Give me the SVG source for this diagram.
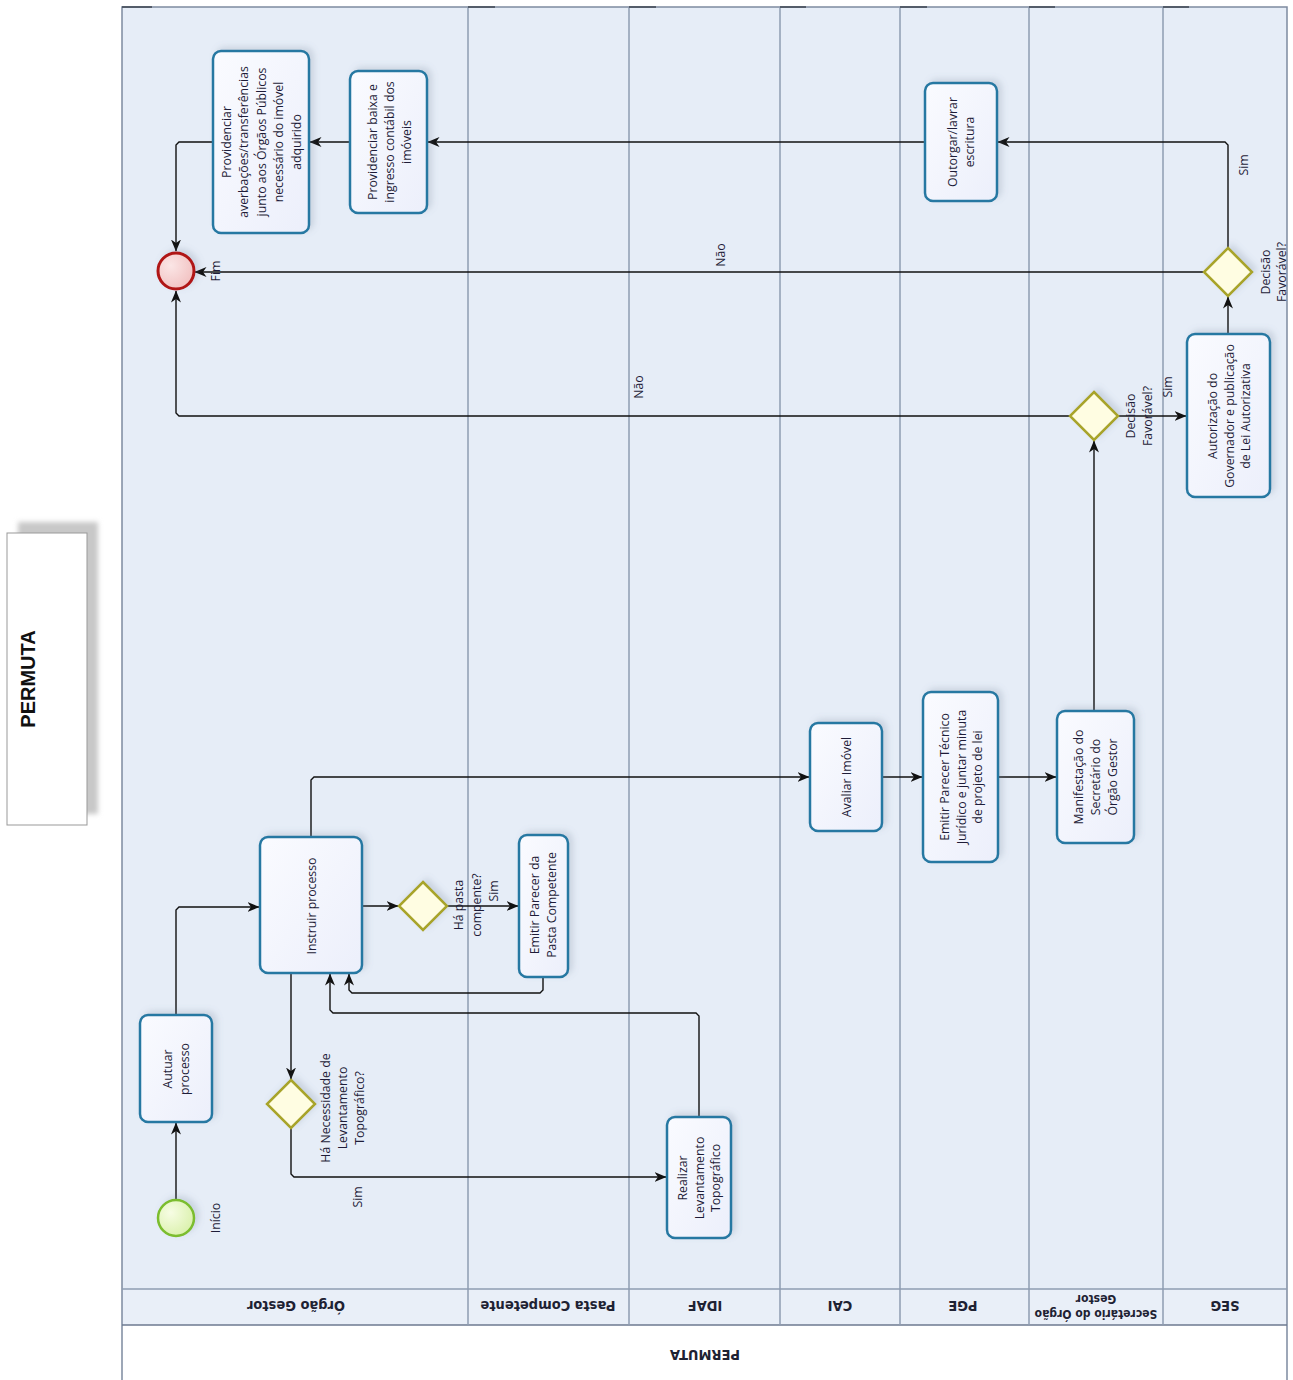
<svg xmlns="http://www.w3.org/2000/svg" width="1293" height="1380" viewBox="0 0 1293 1380">
<defs>
<style>
.lane{fill:#e6edf7;}
.lline{stroke:#8e9cb2;stroke-width:1.5;fill:none;}
.task{fill:url(#taskg);stroke:#2678a2;stroke-width:2.5;}
.gw{fill:#fffde2;stroke:#a8a42c;stroke-width:2.5;}
.t{font-family:"Open Sans","DejaVu Sans",sans-serif;font-size:12.3px;fill:#1e1c38;text-anchor:middle;dominant-baseline:central;}
.lbl{font-family:"DejaVu Sans Condensed","DejaVu Sans",sans-serif;font-weight:bold;font-size:14.5px;fill:#1e2233;text-anchor:middle;dominant-baseline:central;}
.lbls{font-family:"DejaVu Sans Condensed","DejaVu Sans",sans-serif;font-weight:bold;font-size:12px;fill:#1e2233;text-anchor:middle;dominant-baseline:central;}
.c{fill:none;stroke:#111;stroke-width:1.4;}
.ca{fill:none;stroke:#111;stroke-width:1.4;marker-end:url(#arr);}
</style>
<linearGradient id="taskg" x1="0" y1="0" x2="1" y2="1">
<stop offset="0" stop-color="#fafbff"/><stop offset="1" stop-color="#eceffb"/>
</linearGradient>
<radialGradient id="startg" cx="0.35" cy="0.35" r="0.8">
<stop offset="0" stop-color="#f7fde4"/><stop offset="1" stop-color="#d6efa4"/>
</radialGradient>
<radialGradient id="endg" cx="0.35" cy="0.35" r="0.8">
<stop offset="0" stop-color="#fbe6e6"/><stop offset="1" stop-color="#f0bcbc"/>
</radialGradient>
<filter id="sh" x="-30%" y="-30%" width="160%" height="160%">
<feDropShadow dx="4" dy="-3" stdDeviation="3" flood-color="#6a7a90" flood-opacity="0.22"/>
</filter>
<filter id="blur" x="-20%" y="-20%" width="140%" height="140%">
<feGaussianBlur stdDeviation="2.5"/>
</filter>
<marker id="arr" viewBox="0 0 12 10" refX="11.5" refY="5" markerWidth="12" markerHeight="10" orient="auto" markerUnits="userSpaceOnUse">
<path d="M0,0 L12,5 L0,10 L3.5,5 z" fill="#111"/>
</marker>
</defs>

<rect x="0" y="0" width="1293" height="1380" fill="#ffffff"/>

<!-- Left title box -->
<g id="title">
<rect x="18" y="522" width="80" height="292" fill="#c8c8c8" filter="url(#blur)"/>
<rect x="7" y="533" width="80" height="292" fill="#ffffff" stroke="#999" stroke-width="1"/>
<text transform="translate(28,679) rotate(-90)" style="font-family:'Liberation Sans',Arial,sans-serif;font-weight:bold;font-size:20px;fill:#111;text-anchor:middle;dominant-baseline:central;">PERMUTA</text>
</g>

<!-- Pool -->
<g id="pool">
<rect x="122" y="7" width="1165" height="1282" class="lane"/>
<rect x="122" y="1289" width="1165" height="36" fill="#e9eff8"/>
<rect x="122" y="1325" width="1165" height="60" fill="#ffffff"/>
<rect x="122" y="7" width="1165" height="1380" fill="none" stroke="#7d8aa0" stroke-width="1.5"/>
<line x1="122" y1="1289" x2="1287" y2="1289" class="lline"/>
<line x1="122" y1="1325" x2="1287" y2="1325" stroke="#6d7a90" stroke-width="1.5"/>
<g class="lline">
<line x1="468" y1="7" x2="468" y2="1325"/>
<line x1="629" y1="7" x2="629" y2="1325"/>
<line x1="780" y1="7" x2="780" y2="1325"/>
<line x1="900" y1="7" x2="900" y2="1325"/>
<line x1="1029" y1="7" x2="1029" y2="1325"/>
<line x1="1163" y1="7" x2="1163" y2="1325"/>
</g>
<g stroke="#3d4450" stroke-width="1.5">
<line x1="122" y1="7" x2="152" y2="7"/>
<line x1="468" y1="7" x2="495" y2="7"/>
<line x1="629" y1="7" x2="656" y2="7"/>
<line x1="780" y1="7" x2="806" y2="7"/>
<line x1="900" y1="7" x2="927" y2="7"/>
<line x1="1029" y1="7" x2="1055" y2="7"/>
<line x1="1163" y1="7" x2="1189" y2="7"/>
</g>
<text class="lbl" transform="rotate(180 296 1306)" x="296" y="1306">Órgão Gestor</text>
<text class="lbl" transform="rotate(180 548 1306)" x="548" y="1306">Pasta Competente</text>
<text class="lbl" transform="rotate(180 705 1306)" x="705" y="1306">IDAF</text>
<text class="lbl" transform="rotate(180 840 1306)" x="840" y="1306">CAI</text>
<text class="lbl" transform="rotate(180 963 1306)" x="963" y="1306">PGE</text>
<g transform="translate(1096,1306) rotate(180)">
<text class="lbls" x="0" y="-7.5">Secretário do Órgão</text>
<text class="lbls" x="0" y="7.5">Gestor</text>
</g>
<text class="lbl" transform="rotate(180 1225 1306)" x="1225" y="1306">SEG</text>
<text class="lbl" transform="rotate(180 705 1355)" x="705" y="1355">PERMUTA</text>
</g>

<!-- Connectors -->
<g id="connectors">
<path class="ca" d="M176,1200 L176,1123"/>
<path class="ca" d="M176,1015 L176,910 L179,907 L259,907"/>
<path class="ca" d="M362,906 L398,906"/>
<path class="ca" d="M447,906 L518,906"/>
<path class="ca" d="M543,977 L543,990 L540,993 L352,993 L349,990 L349,974"/>
<path class="ca" d="M291,973 L291,1079"/>
<path class="ca" d="M291,1128 L291,1174 L294,1177 L666,1177"/>
<path class="ca" d="M699,1117 L699,1016 L696,1013 L333,1013 L330,1010 L330,974"/>
<path class="ca" d="M311,837 L311,780 L314,777 L809,777"/>
<path class="ca" d="M882,777 L922,777"/>
<path class="ca" d="M998,777 L1056,777"/>
<path class="ca" d="M1094,711 L1094,441"/>
<path class="ca" d="M1118,416 L1186,416"/>
<path class="ca" d="M1070,416 L179,416 L176,413 L176,291"/>
<path class="ca" d="M1228,334 L1228,297"/>
<path class="ca" d="M1204,272 L195,272"/>
<path class="ca" d="M1228,248 L1228,145 L1225,142 L998,142"/>
<path class="ca" d="M925,142 L428,142"/>
<path class="ca" d="M350,142 L310,142"/>
<path class="ca" d="M213,142 L179,142 L176,145 L176,251"/>
<text class="t" transform="translate(493,891) rotate(-90)">Sim</text>
<text class="t" transform="translate(357,1197) rotate(-90)">Sim</text>
<text class="t" transform="translate(1167,387) rotate(-90)">Sim</text>
<text class="t" transform="translate(1243,165) rotate(-90)">Sim</text>
<text class="t" transform="translate(638,387) rotate(-90)">Não</text>
<text class="t" transform="translate(720,255) rotate(-90)">Não</text>
</g>

<!-- Nodes -->
<g id="inicio">
<circle cx="176" cy="1218" r="18" fill="url(#startg)" stroke="#7bbd2e" stroke-width="2.5" filter="url(#sh)"/>
<text class="t" transform="translate(215,1218) rotate(-90)">Início</text>
</g>

<g id="autuar">
<rect x="140" y="1015" width="72" height="107" rx="8" class="task" filter="url(#sh)"/>
<g transform="translate(176,1069) rotate(-90)">
<text class="t" y="-8.5">Autuar</text>
<text class="t" y="8.5">processo</text>
</g>
</g>

<g id="instruir">
<rect x="260" y="837" width="102" height="136" rx="8" class="task" filter="url(#sh)"/>
<text class="t" transform="translate(311,906) rotate(-90)">Instruir processo</text>
</g>

<g id="gw-pasta">
<polygon points="423,882 447,906 423,930 399,906" class="gw" filter="url(#sh)"/>
<g transform="translate(467,905) rotate(-90)">
<text class="t" y="-9">Há pasta</text>
<text class="t" y="9">compente?</text>
</g>
</g>

<g id="emitir-pasta">
<rect x="519" y="835" width="49" height="142" rx="8" class="task" filter="url(#sh)"/>
<g transform="translate(543,905) rotate(-90)">
<text class="t" y="-8.5">Emitir Parecer da</text>
<text class="t" y="8.5">Pasta  Competente</text>
</g>
</g>

<g id="gw-levantamento">
<polygon points="291,1080 315,1104 291,1128 267,1104" class="gw" filter="url(#sh)"/>
<g transform="translate(342,1108) rotate(-90)">
<text class="t" y="-17">Há Necessidade de</text>
<text class="t" y="0">Levantamento</text>
<text class="t" y="17">Topográfico?</text>
</g>
</g>

<g id="realizar">
<rect x="667" y="1117" width="64" height="121" rx="8" class="task" filter="url(#sh)"/>
<g transform="translate(699,1178) rotate(-90)">
<text class="t" y="-16.5">Realizar</text>
<text class="t" y="0">Levantamento</text>
<text class="t" y="16.5">Topográfico</text>
</g>
</g>

<g id="avaliar">
<rect x="810" y="723" width="72" height="108" rx="8" class="task" filter="url(#sh)"/>
<text class="t" transform="translate(846,777) rotate(-90)">Avaliar Imóvel</text>
</g>

<g id="parecer-pge">
<rect x="923" y="692" width="75" height="170" rx="8" class="task" filter="url(#sh)"/>
<g transform="translate(961,777) rotate(-90)">
<text class="t" y="-16.5">Emitir Parecer Técnico</text>
<text class="t" y="0">Jurídico e juntar minuta</text>
<text class="t" y="16.5">de projeto de lei</text>
</g>
</g>

<g id="manifestacao">
<rect x="1057" y="711" width="77" height="132" rx="8" class="task" filter="url(#sh)"/>
<g transform="translate(1095,777) rotate(-90)">
<text class="t" y="-17">Manifestação do</text>
<text class="t" y="0">Secretário do</text>
<text class="t" y="17">Órgão Gestor</text>
</g>
</g>

<g id="gw-decisao1">
<polygon points="1094,392 1118,416 1094,440 1070,416" class="gw" filter="url(#sh)"/>
<g transform="translate(1139,416) rotate(-90)">
<text class="t" y="-8.5">Decisão</text>
<text class="t" y="8.5">Favorável?</text>
</g>
</g>

<g id="autorizacao">
<rect x="1187" y="334" width="83" height="163" rx="8" class="task" filter="url(#sh)"/>
<g transform="translate(1229,416) rotate(-90)">
<text class="t" y="-16.5">Autorização do</text>
<text class="t" y="0">Governador e publicação</text>
<text class="t" y="16.5">de Lei Autorizativa</text>
</g>
</g>

<g id="gw-decisao2">
<polygon points="1228,248 1252,272 1228,296 1204,272" class="gw" filter="url(#sh)"/>
<g transform="translate(1273,272) rotate(-90)">
<text class="t" y="-8">Decisão</text>
<text class="t" y="8">Favorável?</text>
</g>
</g>

<g id="outorgar">
<rect x="925" y="83" width="72" height="118" rx="8" class="task" filter="url(#sh)"/>
<g transform="translate(961,142) rotate(-90)">
<text class="t" y="-8.5">Outorgar/lavrar</text>
<text class="t" y="8.5">escritura</text>
</g>
</g>

<g id="baixa">
<rect x="350" y="71" width="77" height="142" rx="8" class="task" filter="url(#sh)"/>
<g transform="translate(389,142) rotate(-90)">
<text class="t" y="-17">Providenciar baixa e</text>
<text class="t" y="0">ingresso contábil dos</text>
<text class="t" y="17">imóveis</text>
</g>
</g>

<g id="averbacoes">
<rect x="213" y="51" width="96" height="182" rx="8" class="task" filter="url(#sh)"/>
<g transform="translate(261,142) rotate(-90)">
<text class="t" y="-35">Providenciar</text>
<text class="t" y="-17.5">averbações/transferências</text>
<text class="t" y="0">junto aos Órgãos Públicos</text>
<text class="t" y="17.5">necessário do imóvel</text>
<text class="t" y="35">adquirido</text>
</g>
</g>

<g id="fim">
<circle cx="176" cy="271" r="18" fill="url(#endg)" stroke="#b01414" stroke-width="3" filter="url(#sh)"/>
<text class="t" transform="translate(215,271) rotate(-90)">Fim</text>
</g>
</svg>
